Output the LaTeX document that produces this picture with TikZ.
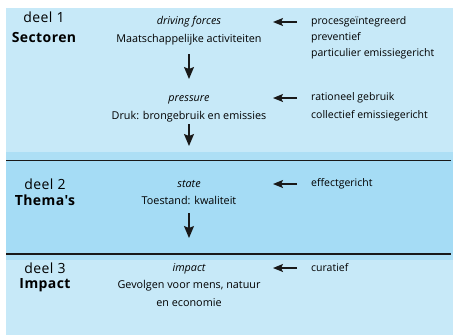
\documentclass[tikz,border=0pt]{standalone}
\usepackage{fontspec}
\setmainfont{Open Sans}
\newfontfamily\deelfont[LetterSpace=3]{Open Sans}
\usetikzlibrary{arrows.meta}
\definecolor{lightbg}{HTML}{C7E9F8}
\definecolor{midbg}{HTML}{ADDFF5}
\definecolor{darkbg}{HTML}{A5DCF5}
\tikzset{
  txt/.style={font=\fontsize{10.8}{12}\selectfont, inner sep=0pt, anchor=center},
  rtxt/.style={font=\fontsize{10.5}{12}\selectfont, inner sep=0pt, anchor=west},
  deel/.style={font=\deelfont\fontsize{14}{16}\selectfont, inner sep=0pt},
  deelb/.style={font=\deelfont\fontsize{14}{16}\selectfont\bfseries, inner sep=0pt},
  down/.style={-{Stealth[length=12pt,width=10pt,inset=2pt]}, line width=1.2pt, black!90},
  leftarr/.style={-{Stealth[length=10pt,width=8pt,inset=2pt]}, line width=1.3pt, black!90},
  sep/.style={line width=1.6pt, black!90}
}
\begin{document}
\begin{tikzpicture}[x=1pt,y=-1pt]
\useasboundingbox (0,0) rectangle (454,335);
\fill[white] (0,0) rectangle (454,335);
\fill[lightbg] (6,8) rectangle (453,335);
\fill[midbg] (6,152) rectangle (453,160);
\fill[darkbg] (6,160) rectangle (453,254);
\fill[midbg] (6,254) rectangle (453,260);
\draw[sep] (6,160.5) -- (451,160.5);
\draw[sep] (6,254) -- (451,254);
% left column
\node[deel] (d1) at (44,17) {deel 1};
\node[deelb] (s1) at (44,37) {Sectoren};
\node[deel] (d2) at (45,184) {deel 2};
\node[deelb] (s2) at (45,200) {Thema's};
\node[deel] (d3) at (45,268) {deel 3};
\node[deelb] (s3) at (45,285) {Impact};
% center column
\node[txt] (df) at (189,22) {\itshape driving forces};
\node[txt] (ma) at (189,40) {Maatschappelijke activiteiten};
\node[txt] (pr) at (189,100) {\itshape pressure};
\node[txt] (dr) at (189,117) {Druk: brongebruik en emissies};
\node[txt] (st) at (189,184) {\itshape state};
\node[txt] (to) at (189,200) {Toestand: kwaliteit};
\node[txt] (im) at (189,269) {\itshape impact};
\node[txt] (ge) at (189,286) {Gevolgen voor mens, natuur};
\node[txt] (ec) at (189,303) {en economie};
\coordinate (a1s) at (189,54); \coordinate (a1e) at (189,79);
\coordinate (a2s) at (189,124); \coordinate (a2e) at (189,146);
\coordinate (a3s) at (189,213); \coordinate (a3e) at (189,238);
\draw[down] (a1s) -- (a1e);
\draw[down] (a2s) -- (a2e);
\draw[down] (a3s) -- (a3e);
% right column
\node[rtxt] (r1) at (311,22) {procesgeïntegreerd};
\node[rtxt] (r2) at (311,38) {preventief};
\node[rtxt] (r3) at (311,54) {particulier emissiegericht};
\node[rtxt] (r4) at (311,98) {rationeel gebruik};
\node[rtxt] (r5) at (311,116) {collectief emissiegericht};
\node[rtxt] (r6) at (311,184) {effectgericht};
\node[rtxt] (r7) at (311,268) {curatief};
\coordinate (l1) at (297,22); \coordinate (t1) at (273,22);
\coordinate (l2) at (297,98); \coordinate (t2) at (273,98);
\coordinate (l3) at (297,184); \coordinate (t3) at (273,184);
\coordinate (l4) at (297,268); \coordinate (t4) at (273,268);
\draw[leftarr] (l1) -- (t1);
\draw[leftarr] (l2) -- (t2);
\draw[leftarr] (l3) -- (t3);
\draw[leftarr] (l4) -- (t4);
\end{tikzpicture}
\end{document}
